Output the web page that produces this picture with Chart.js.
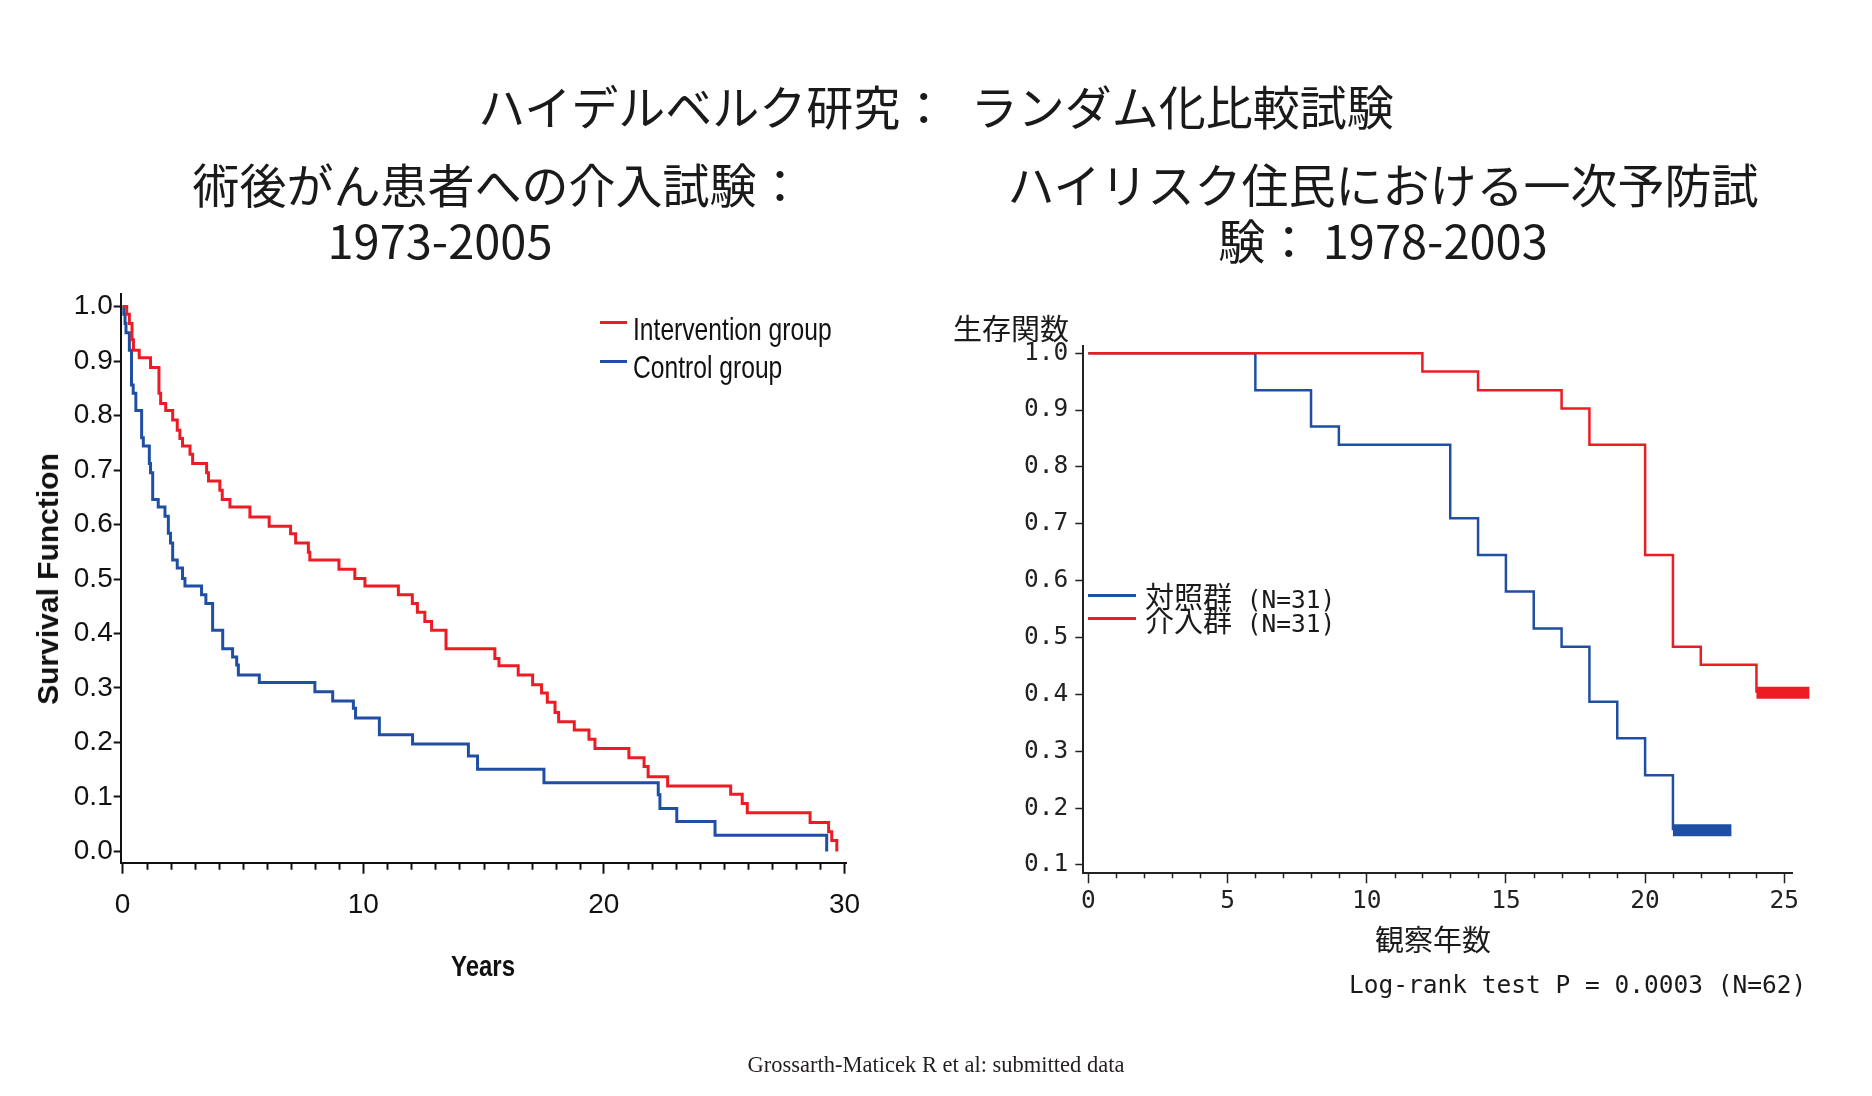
<!DOCTYPE html>
<html lang="ja">
<head>
<meta charset="utf-8">
<title>ハイデルベルク研究： ランダム化比較試験</title>
<script src="https://cdn.jsdelivr.net/npm/chart.js@4.4.1/dist/chart.umd.min.js"></script>
<style>
  html, body { margin: 0; padding: 0; background: #fff; }
  #page { position: relative; width: 1872px; height: 1096px; overflow: hidden; background: #fff; }
  canvas { position: absolute; left: 0; top: 0; }
  .t { position: absolute; white-space: nowrap; color: #1a1a1a; line-height: 1; }
  .c { transform: translate(-50%, -50%); }
  .l { transform: translateY(-50%); }
  .jp { font-family: "Noto Sans CJK JP", sans-serif; font-size: 47px; }
  .ar { font-family: "Liberation Sans", Arial, sans-serif; color: #111; }
  .cj { font-family: "Noto Sans CJK JP", sans-serif; font-size: 29px; }
  .mn { font-family: "DejaVu Sans Mono", monospace; font-size: 24.5px; }
  .ln { position: absolute; }
</style>
</head>
<body>
<div id="page">
  <canvas id="leftChart" width="1872" height="1096"></canvas>
  <canvas id="rightChart" width="1872" height="1096"></canvas>

  <div class="t jp c" style="left:936px; top:104px;">ハイデルベルク研究：&ensp;ランダム化比較試験</div>
  <div class="t jp c" style="left:498px; top:182px;">術後がん患者への介入試験：</div>
  <div class="t jp c" style="left:440px; top:238px;">1973-2005</div>
  <div class="t jp c" style="left:1383px; top:182px;">ハイリスク住民における一次予防試</div>
  <div class="t jp c" style="left:1383px; top:238px;">験： 1978-2003</div>

  <!-- left chart texts -->
  <div class="t ar" style="left:48px; top:579px; font-size:30px; font-weight:bold; transform:translate(-50%,-50%) rotate(-90deg);">Survival Function</div>
  <div class="t ar" style="left:483px; top:966px; font-size:30px; font-weight:bold; transform:translate(-50%,-50%) scaleX(0.8);">Years</div>
  <div class="ln" style="left:600px; top:320.5px; width:27px; height:3px; background:#ED1C24;"></div>
  <div class="ln" style="left:600px; top:359.5px; width:27px; height:3px; background:#1F4FA3;"></div>
  <div class="t ar" style="left:633px; top:329px; font-size:32px; transform:translateY(-50%) scaleX(0.77); transform-origin:left center;">Intervention group</div>
  <div class="t ar" style="left:633px; top:367px; font-size:32px; transform:translateY(-50%) scaleX(0.77); transform-origin:left center;">Control group</div>

  <!-- right chart texts -->
  <div class="t cj l" style="left:953px; top:327px;">生存関数</div>
  <div class="t cj c" style="left:1433px; top:938px;">観察年数</div>
  <div class="ln" style="left:1088px; top:594px; width:48px; height:2.5px; background:#1F4FA3;"></div>
  <div class="ln" style="left:1088px; top:617px; width:48px; height:2.5px; background:#ED1C24;"></div>
  <div class="t l" style="left:1145px; top:597px;"><span class="cj">対照群</span><span class="mn"> (N=31)</span></div>
  <div class="t l" style="left:1145px; top:621px;"><span class="cj">介入群</span><span class="mn"> (N=31)</span></div>
  <div class="t mn l" style="left:1349px; top:985px;">Log-rank test P = 0.0003 (N=62)</div>

  <div class="t c" style="left:936px; top:1065px; font-family:'Liberation Serif', serif; font-size:22.5px; color:#231f20;">Grossarth-Maticek R et al: submitted data</div>
</div>

<script>
// Left panel: post-operative cancer patients, 1973-2005
const leftYTicks = [0, 0.1, 0.2, 0.3, 0.4, 0.5, 0.6, 0.7, 0.8, 0.9, 1.0];
const leftXTicks = [0, 10, 20, 30];

const interventionYears = [0, 0.17, 0.28, 0.39, 0.45, 0.69, 1.16, 1.51, 1.58, 1.79, 2.08, 2.27, 2.38, 2.49, 2.80, 2.91,
  3.49, 3.57, 4.04, 4.14, 4.46, 5.29, 6.09, 6.98, 7.19, 7.72, 7.78, 8.99, 9.65, 10.07, 11.46, 12.04, 12.25, 12.56,
  12.84, 13.44, 15.47, 15.64, 16.44, 17.04, 17.41, 17.65, 17.97, 18.12, 18.77, 19.38, 19.63, 21.04, 21.67, 21.84,
  22.65, 25.27, 25.75, 25.96, 28.57, 29.34, 29.47, 29.68];
const interventionSurv = [1.0, 0.986, 0.969, 0.939, 0.920, 0.906, 0.888, 0.841, 0.822, 0.809, 0.792, 0.773, 0.758, 0.744,
  0.729, 0.712, 0.695, 0.680, 0.663, 0.646, 0.632, 0.614, 0.597, 0.583, 0.566, 0.549, 0.535, 0.518, 0.501, 0.487,
  0.471, 0.455, 0.439, 0.422, 0.406, 0.372, 0.354, 0.341, 0.324, 0.306, 0.291, 0.274, 0.255, 0.238, 0.223, 0.206,
  0.189, 0.172, 0.156, 0.137, 0.120, 0.105, 0.088, 0.071, 0.053, 0.036, 0.020, 0.0];

const controlYears = [0, 0.05, 0.10, 0.14, 0.28, 0.37, 0.44, 0.55, 0.79, 0.86, 1.11, 1.16, 1.25, 1.48, 1.76, 1.90, 1.99,
  2.08, 2.27, 2.49, 2.59, 3.28, 3.46, 3.74, 4.16, 4.57, 4.74, 4.81, 5.68, 7.99, 8.73, 9.59, 9.68, 10.67, 12.05,
  14.37, 14.75, 17.51, 22.26, 22.33, 23.03, 24.62, 29.26];
const controlSurv = [1.0, 0.986, 0.969, 0.952, 0.920, 0.856, 0.841, 0.809, 0.759, 0.744, 0.712, 0.695, 0.646, 0.632,
  0.615, 0.584, 0.566, 0.535, 0.520, 0.501, 0.487, 0.471, 0.455, 0.406, 0.372, 0.357, 0.342, 0.324, 0.310, 0.293,
  0.276, 0.263, 0.245, 0.214, 0.197, 0.175, 0.151, 0.126, 0.104, 0.079, 0.055, 0.030, 0.0];

// Right panel: high-risk residents, primary prevention 1978-2003 (N=31 per group)
const rightYTicks = [0.1, 0.2, 0.3, 0.4, 0.5, 0.6, 0.7, 0.8, 0.9, 1.0];
const rightXTicks = [0, 5, 10, 15, 20, 25];

const riskInterventionYears = [0, 12, 14, 17, 18, 20, 21, 22, 24];
const riskInterventionSurv = [1.0, 0.968, 0.935, 0.903, 0.839, 0.645, 0.484, 0.452, 0.403];
const riskControlYears = [0, 6, 8, 9, 13, 14, 15, 16, 17, 18, 19, 20, 21];
const riskControlSurv = [1.0, 0.935, 0.871, 0.839, 0.710, 0.645, 0.581, 0.516, 0.484, 0.387, 0.323, 0.258, 0.161];

// censored stretch at the end of each curve (drawn as a thick bar)
const censorInterventionYears = [24, 25.9];
const censorInterventionSurv = [0.403, 0.403];
const censorControlYears = [21, 23.1];
const censorControlSurv = [0.161, 0.161];

const RED = '#ED1C24';
const BLUE = '#1F4FA3';

function points(xs, ys) {
  return xs.map((x, i) => ({ x: x, y: ys[i] }));
}

// short unlabeled ticks every year on the x axis
const minorTicks = {
  id: 'minorTicks',
  afterDraw(chart, args, opts) {
    const sx = chart.scales.x;
    const ctx = chart.ctx;
    ctx.save();
    ctx.strokeStyle = opts.color;
    ctx.lineWidth = opts.width;
    for (let v = opts.from; v <= opts.to; v += 1) {
      if (opts.skip.includes(v)) continue;
      const px = Math.round(sx.getPixelForValue(v)) + 0.5;
      ctx.beginPath();
      ctx.moveTo(px, sx.top);
      ctx.lineTo(px, sx.top + opts.length);
      ctx.stroke();
    }
    ctx.restore();
  }
};

const leftFont = { family: '"Liberation Sans", Arial, sans-serif', size: 28 };
const monoFont = { family: '"DejaVu Sans Mono", monospace', size: 24.5 };

// Left chart
new Chart(document.getElementById('leftChart'), {
  type: 'line',
  data: {
    datasets: [
      { label: 'Intervention group', data: points(interventionYears, interventionSurv),
        borderColor: RED, borderWidth: 3, stepped: 'before', pointRadius: 0, fill: false },
      { label: 'Control group', data: points(controlYears, controlSurv),
        borderColor: BLUE, borderWidth: 3, stepped: 'before', pointRadius: 0, fill: false }
    ]
  },
  options: {
    responsive: false,
    animation: false,
    events: [],
    layout: { padding: { left: 20.7, right: 1025.1, top: 294, bottom: 173.3 } },
    plugins: {
      legend: { display: false },
      tooltip: { enabled: false },
      minorTicks: { from: 0, to: 30, skip: leftXTicks, length: 7, width: 2, color: '#111' }
    },
    scales: {
      x: {
        type: 'linear', min: -0.08, max: 30.1,
        afterFit: s => { s.height = 60; },
        afterBuildTicks: s => { s.ticks = leftXTicks.map(v => ({ value: v })); },
        grid: { drawOnChartArea: false, tickLength: 11, tickWidth: 2, tickColor: '#111' },
        border: { color: '#111', width: 2 },
        ticks: { padding: 15, color: '#111', font: leftFont, autoSkip: false, maxRotation: 0,
                 callback: v => String(v) }
      },
      y: {
        type: 'linear', min: -0.0206, max: 1.023,
        afterFit: s => { s.width = 100; },
        afterBuildTicks: s => { s.ticks = leftYTicks.map(v => ({ value: v })); },
        grid: { drawOnChartArea: false, tickLength: 7, tickWidth: 2, tickColor: '#111' },
        border: { color: '#111', width: 2 },
        ticks: { padding: 1, color: '#111', font: leftFont, autoSkip: false,
                 callback: v => v.toFixed(1) }
      }
    }
  },
  plugins: [minorTicks]
});

// Right chart
new Chart(document.getElementById('rightChart'), {
  type: 'line',
  data: {
    datasets: [
      { label: '介入群 (N=31)', data: points(riskInterventionYears, riskInterventionSurv),
        borderColor: RED, borderWidth: 2.5, stepped: 'before', pointRadius: 0, fill: false },
      { label: '対照群 (N=31)', data: points(riskControlYears, riskControlSurv),
        borderColor: BLUE, borderWidth: 2.5, stepped: 'before', pointRadius: 0, fill: false },
      { label: 'censored', data: points(censorInterventionYears, censorInterventionSurv),
        borderColor: RED, borderWidth: 12, borderCapStyle: 'butt', pointRadius: 0, fill: false, clip: false },
      { label: 'censored', data: points(censorControlYears, censorControlSurv),
        borderColor: BLUE, borderWidth: 12, borderCapStyle: 'butt', pointRadius: 0, fill: false, clip: false }
    ]
  },
  options: {
    responsive: false,
    animation: false,
    events: [],
    layout: { padding: { left: 983.3, right: 79.9, top: 346, bottom: 162.7 } },
    plugins: {
      legend: { display: false },
      tooltip: { enabled: false },
      minorTicks: { from: 0, to: 25, skip: rightXTicks, length: 5, width: 1.5, color: '#222' }
    },
    scales: {
      x: {
        type: 'linear', min: -0.18, max: 25.28,
        afterFit: s => { s.height = 60; },
        afterBuildTicks: s => { s.ticks = rightXTicks.map(v => ({ value: v })); },
        grid: { drawOnChartArea: false, tickLength: 10, tickWidth: 1.5, tickColor: '#222' },
        border: { color: '#222', width: 2 },
        ticks: { padding: 4, color: '#222', font: monoFont, autoSkip: false, maxRotation: 0,
                 callback: v => String(v) }
      },
      y: {
        type: 'linear', min: 0.0854, max: 1.0128,
        afterFit: s => { s.width = 100; },
        afterBuildTicks: s => { s.ticks = rightYTicks.map(v => ({ value: v })); },
        grid: { drawOnChartArea: false, tickLength: 8, tickWidth: 1.5, tickColor: '#222' },
        border: { color: '#222', width: 2 },
        ticks: { padding: 7, color: '#222', font: monoFont, autoSkip: false,
                 callback: v => v.toFixed(1) }
      }
    }
  },
  plugins: [minorTicks]
});
</script>
</body>
</html>
